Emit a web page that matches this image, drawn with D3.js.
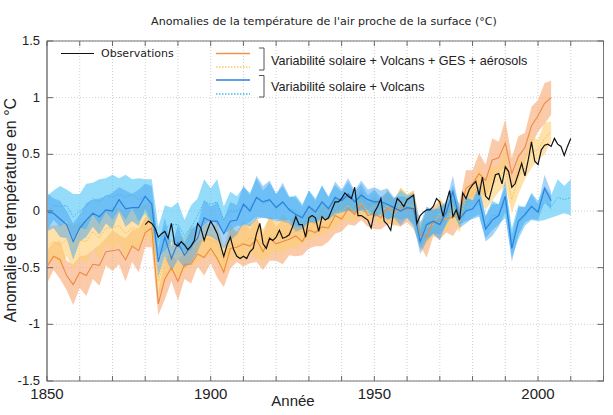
<!DOCTYPE html>
<html>
<head>
<meta charset="utf-8">
<script src="https://cdnjs.cloudflare.com/ajax/libs/d3/7.8.5/d3.min.js"></script>
<style>
html, body { margin: 0; padding: 0; background: #fff; }
svg { display: block; }
text { fill: #222; }
</style>
</head>
<body>
<svg id="chart" width="613" height="415"></svg>
<script>
const titleText = "Anomalies de la température de l'air proche de la surface (°C)";
const xLabel = "Année";
const yLabel = "Anomalie de température en °C";
const yTickLabels = ["-1.5", "-1", "-0.5", "0", "0.5", "1", "1.5"];
const xTickLabels = [1850, 1900, 1950, 2000];

// observations, one value a year from 1880
const obsValues = [
  -.12,-.09,-.11,-.15,-.23,-.2,-.18,-.24,-.11,-.29,
  -.31,-.27,-.3,-.34,-.31,-.26,-.11,-.15,-.26,-.17,
  -.09,-.14,-.2,-.3,-.4,-.3,-.23,-.34,-.4,-.42,
  -.4,-.42,-.36,-.33,-.2,-.11,-.29,-.33,-.24,-.26,
  -.23,-.17,-.24,-.23,-.21,-.14,-.05,-.12,-.12,-.23,
  -.06,-.04,-.06,-.18,-.05,-.08,-.06,.01,.08,.08,
  .11,.16,.13,.11,.21,-.04,-.04,-.06,-.08,-.15,
  -.01,.04,.11,-.09,-.12,-.17,.01,.11,.08,.04,
  .1,.12,.14,-.11,-.04,-.01,.01,.01,.04,.11,
  .08,-.05,.08,.18,-.05,.01,-.08,.16,.11,.19,
  .23,.26,.14,.3,.13,.1,.21,.32,.33,.24,
  .39,.35,.21,.24,.33,.42,.31,.45,.61,.44,
  .41,.54,.58,.59,.57,.64,.59,.57,.49,.57,
  .64
];

// model means, one value every two years from 1850, ten to a line
const orangeMean = [
  -.49,-.4,-.43,-.57,-.65,-.54,-.57,-.47,-.48,-.36,
  -.35,-.34,-.43,-.31,-.35,-.19,-.15,-.82,-.6,-.5,
  -.62,-.47,-.47,-.38,-.41,-.33,-.42,-.54,-.33,-.32,
  -.29,-.31,-.25,-.36,-.24,-.29,-.27,-.25,-.22,-.27,
  -.17,-.19,-.14,-.15,-.04,-.07,.02,-.03,.06,-.04,
  -.02,-.06,.03,-.01,.03,.02,.01,-.2,-.23,-.09,
  -.08,-.07,-.05,-.03,.2,.24,.33,.27,.45,.47,
  .6,.33,.48,.56,.75,.84,.95,1.0
];
const orangeSpread = [
  .15,.12,.17,.13,.18,.14,.18,.13,.18,.12,
  .18,.13,.19,.14,.19,.13,.17,.1,.18,.12,
  .17,.13,.17,.11,.16,.13,.17,.13,.18,.13,
  .2,.15,.2,.16,.2,.15,.2,.14,.18,.12,
  .16,.12,.17,.12,.16,.11,.14,.1,.14,.1,
  .14,.1,.15,.11,.17,.12,.17,.11,.18,.13,
  .17,.12,.17,.1,.16,.12,.18,.14,.19,.14,
  .21,.14,.18,.13,.17,.14,.18,.15
];
const paleMean = [
  -.31,-.27,-.3,-.25,-.32,-.26,-.27,-.18,-.24,-.15,
  -.15,-.13,-.2,-.15,-.16,-.08,-.1,-.62,-.43,-.4,
  -.4,-.38,-.3,-.32,-.24,-.26,-.28,-.44,-.28,-.3,
  -.28,-.24,-.24,-.3,-.22,-.22,-.2,-.2,-.18,-.18,
  -.1,-.12,-.06,-.07,-.01,0,.05,0,.07,0,
  .04,-.02,.05,-.04,.07,.06,.04,-.24,-.14,-.12,
  -.02,-.08,.04,-.1,.12,.15,.24,.13,.24,.28,
  .38,.1,.3,.38,.52,.54,.64,.7
];
const paleSpread = [
  .17,.14,.18,.15,.19,.16,.19,.15,.19,.14,
  .19,.15,.2,.16,.19,.14,.18,.13,.18,.14,
  .18,.15,.18,.13,.17,.12,.17,.12,.16,.12,
  .16,.13,.17,.14,.17,.13,.17,.12,.15,.11,
  .15,.1,.15,.1,.14,.09,.13,.09,.12,.08,
  .12,.09,.14,.1,.14,.09,.14,.1,.15,.11,
  .14,.1,.13,.09,.12,.09,.15,.12,.15,.11,
  .16,.12,.15,.1,.14,.09,.14,.09
];
const blueMean = [
  -.01,-.02,-.07,-.12,-.27,-.15,-.08,-.02,-.05,.01,
  0,.1,.02,.03,.03,.13,.06,-.45,-.23,-.42,
  -.28,-.39,-.31,-.24,-.06,-.09,-.09,-.2,-.09,-.08,
  .06,0,.12,.08,.1,.03,.08,.01,-.03,-.06,
  .04,-.01,.08,.02,.12,.09,.15,.08,.14,.1,
  .08,.08,.06,.03,0,.03,.02,-.27,-.12,-.09,
  -.12,-.01,.17,-.07,0,.02,.1,-.16,-.08,-.04,
  .13,-.33,-.09,-.03,.04,-.01,.2,.09
];
const blueSpread = [
  .17,.13,.16,.12,.16,.12,.15,.12,.16,.12,
  .16,.11,.16,.12,.16,.11,.16,.13,.17,.11,
  .15,.11,.15,.12,.16,.13,.17,.13,.17,.13,
  .17,.14,.19,.14,.17,.12,.17,.12,.15,.1,
  .14,.1,.15,.1,.14,.1,.14,.1,.13,.09,
  .13,.1,.14,.09,.13,.09,.14,.11,.15,.11,
  .14,.1,.14,.08,.11,.08,.13,.11,.14,.1,
  .14,.12,.12,.07,.11,.07,.12,.08
];
const lightMean = [
  -.02,.05,.04,.05,-.05,0,.04,.11,.08,.14,
  .12,.15,.12,.15,.1,.13,.08,-.27,-.15,-.12,
  -.12,-.22,-.15,-.04,.08,.06,.08,-.08,0,0,
  .04,.03,.12,.06,.09,.04,.07,.02,0,-.04,
  .04,.01,.08,.03,.1,.08,.13,.08,.12,.06,
  .07,.04,.05,.03,.05,.04,0,-.22,-.1,-.1,
  -.08,-.03,.1,-.04,.02,.01,.07,-.14,-.04,-.03,
  .08,-.28,-.1,-.05,.04,0,.07,.04,.12,.1,
  .12
];
const lightSpread = [
  .15,.13,.18,.14,.2,.15,.2,.14,.2,.15,
  .2,.14,.2,.13,.19,.15,.2,.13,.2,.15,
  .2,.14,.2,.15,.2,.14,.2,.12,.17,.13,
  .17,.13,.17,.12,.16,.11,.15,.1,.14,.1,
  .14,.1,.14,.1,.13,.09,.13,.08,.12,.08,
  .12,.08,.12,.08,.13,.1,.14,.11,.14,.1,
  .13,.09,.13,.08,.11,.08,.12,.1,.13,.09,
  .14,.13,.15,.08,.12,.09,.15,.1,.16,.12,
  .16
];

const margin = {top: 41, right: 10, bottom: 34, left: 47};
const width = 613, height = 415;
const svg = d3.select("#chart");

const xScale = d3.scaleLinear().domain([1850, 2020]).range([margin.left, 603.5]);
const yScale = d3.scaleLinear().domain([-1.5, 1.5]).range([height - margin.bottom, margin.top]);

const xTicks = d3.range(1850, 2021, 10);
const yTicks = d3.range(-1.5, 1.51, .5);

// grid
const grid = svg.append("g").attr("stroke", "#cfcfcf").attr("stroke-width", 1).attr("stroke-dasharray", "1,2");
grid.selectAll("line.gx").data(xTicks).join("line").attr("class", "gx")
  .attr("x1", d => xScale(d)).attr("x2", d => xScale(d))
  .attr("y1", margin.top).attr("y2", yScale(-1.5));
grid.selectAll("line.gy").data(yTicks).join("line").attr("class", "gy")
  .attr("x1", margin.left).attr("x2", 603.5)
  .attr("y1", d => yScale(d)).attr("y2", d => yScale(d));

const toSeries = (mean, spread) => mean.map((v, i) => ({year: 1850 + i * 2, v: v, s: spread[i]}));

const area = d3.area().x(d => xScale(d.year))
  .y0(d => yScale(d.v - d.s)).y1(d => yScale(d.v + d.s));
const line = d3.line().x(d => xScale(d.year)).y(d => yScale(d.v));

const models = [
  {mean: orangeMean, spread: orangeSpread, band: "#f8a66e", op: .6, stroke: "#ee8a45", dash: null, w: 1.1},
  {mean: paleMean, spread: paleSpread, band: "#fdcf70", op: .6, stroke: "#f6c04e", dash: "1.5,1.5", w: 1},
  {mean: lightMean, spread: lightSpread, band: "#5cc8f8", op: .65, stroke: "#3ab8e8", dash: "1.5,1.5", w: 1},
  {mean: blueMean, spread: blueSpread, band: "#3f9df2", op: .45, stroke: "#2a80dc", dash: null, w: 1.2}
];
models.forEach(m => {
  const s = toSeries(m.mean, m.spread);
  svg.append("path").datum(s).attr("d", area).attr("fill", m.band).attr("fill-opacity", m.op);
});
models.forEach(m => {
  const s = toSeries(m.mean, m.spread);
  svg.append("path").datum(s).attr("d", line).attr("fill", "none")
    .attr("stroke", m.stroke).attr("stroke-width", m.w).attr("stroke-dasharray", m.dash);
});

svg.append("path").datum(obsValues.map((v, i) => ({year: 1880 + i, v: v})))
  .attr("d", line).attr("fill", "none").attr("stroke", "#111").attr("stroke-width", 1.2);

// frame and ticks
svg.append("rect").attr("x", margin.left).attr("y", margin.top)
  .attr("width", 603.5 - margin.left).attr("height", yScale(-1.5) - margin.top)
  .attr("fill", "none").attr("stroke", "#777").attr("stroke-width", 1);
svg.append("line").attr("x1", margin.left).attr("x2", margin.left)
  .attr("y1", margin.top).attr("y2", yScale(-1.5)).attr("stroke", "#999").attr("stroke-width", 2);

const ticks = svg.append("g").attr("stroke", "#666");
ticks.selectAll("line.tt").data(xTicks).join("line").attr("class", "tt")
  .attr("x1", d => xScale(d)).attr("x2", d => xScale(d)).attr("y1", margin.top).attr("y2", margin.top + 5);
ticks.selectAll("line.tb").data(xTicks).join("line").attr("class", "tb")
  .attr("x1", d => xScale(d)).attr("x2", d => xScale(d)).attr("y1", yScale(-1.5)).attr("y2", yScale(-1.5) - 5);
ticks.selectAll("line.tl").data(yTicks).join("line").attr("class", "tl")
  .attr("x1", margin.left).attr("x2", margin.left + 6).attr("y1", d => yScale(d)).attr("y2", d => yScale(d));
ticks.selectAll("line.tr").data(yTicks).join("line").attr("class", "tr")
  .attr("x1", 603.5).attr("x2", 597.5).attr("y1", d => yScale(d)).attr("y2", d => yScale(d));

// tick labels
const tickFont = "'Liberation Sans', Arial, sans-serif";
svg.selectAll("text.yl").data(yTickLabels).join("text").attr("class", "yl")
  .attr("x", 40).attr("y", d => yScale(+d) + 4).attr("text-anchor", "end")
  .attr("font-family", tickFont).attr("font-size", 13).text(d => d);
svg.selectAll("text.xl").data(xTickLabels).join("text").attr("class", "xl")
  .attr("x", d => xScale(d)).attr("y", 399).attr("text-anchor", "middle")
  .attr("font-family", tickFont).attr("font-size", 15).text(d => d);

// titles
const dejavu = "'DejaVu Sans', sans-serif";
svg.append("text").attr("x", 324).attr("y", 25).attr("text-anchor", "middle")
  .attr("font-family", dejavu).attr("font-size", 11.1).text(titleText);
svg.append("text").attr("x", 293).attr("y", 406).attr("text-anchor", "middle")
  .attr("font-family", tickFont).attr("font-size", 15).text(xLabel);
svg.append("text").attr("transform", "translate(16,210) rotate(-90)").attr("text-anchor", "middle")
  .attr("font-family", tickFont).attr("font-size", 16).text(yLabel);

// legend
const legendObs = svg.append("g");
legendObs.append("line").attr("x1", 61).attr("x2", 94).attr("y1", 53.5).attr("y2", 53.5).attr("stroke", "#111").attr("stroke-width", 1.1);
legendObs.append("text").attr("x", 101).attr("y", 57).attr("font-family", dejavu).attr("font-size", 11).text("Observations");

const legendRows = [
  {y: 53.5, c: "#f0934d", dash: null},
  {y: 67, c: "#f7cb62", dash: "1.5,1.5"},
  {y: 80, c: "#2a7fd8", dash: null},
  {y: 94, c: "#45bde8", dash: "1.5,1.5"}
];
svg.selectAll("line.lg").data(legendRows).join("line").attr("class", "lg")
  .attr("x1", 216).attr("x2", 250).attr("y1", d => d.y).attr("y2", d => d.y)
  .attr("stroke", d => d.c).attr("stroke-width", 1.4).attr("stroke-dasharray", d => d.dash);

const legendBrackets = [[48, 70], [75.5, 97]];
svg.selectAll("path.br").data(legendBrackets).join("path").attr("class", "br")
  .attr("d", d => d3.line()([[259, d[0]], [264, d[0]], [264, d[1]], [259, d[1]]]))
  .attr("fill", "none").attr("stroke", "#555").attr("stroke-width", 1);

svg.append("text").attr("x", 271).attr("y", 65).attr("font-family", tickFont).attr("font-size", 12.6)
  .text("Variabilité solaire + Volcans + GES + aérosols");
svg.append("text").attr("x", 271).attr("y", 91).attr("font-family", tickFont).attr("font-size", 12.6)
  .text("Variabilité solaire + Volcans");
</script>
</body>
</html>
